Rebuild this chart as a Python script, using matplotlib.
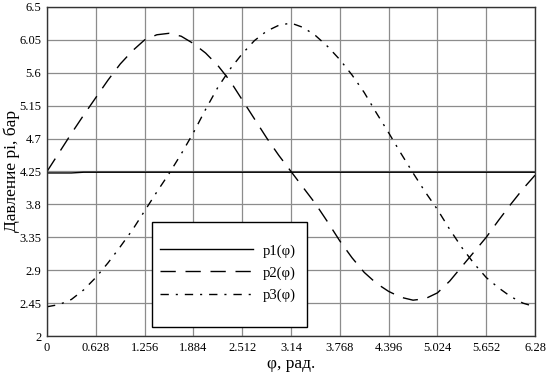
import matplotlib
matplotlib.use('Agg')
import matplotlib.pyplot as plt
from matplotlib.patches import Rectangle

# angle, rad
phi = [0.000, 0.157, 0.314, 0.471, 0.628, 0.785, 0.942, 1.099, 1.256, 1.413,
       1.570, 1.727, 1.884, 2.041, 2.198, 2.355, 2.512, 2.669, 2.826, 2.983,
       3.140, 3.297, 3.454, 3.611, 3.768, 3.925, 4.082, 4.239, 4.396, 4.553,
       4.710, 4.867, 5.024, 5.181, 5.338, 5.495, 5.652, 5.809, 5.966, 6.123,
       6.280]

# pressures, bar
p1 = [4.23, 4.23, 4.23, 4.24, 4.24, 4.24, 4.24, 4.24, 4.24, 4.24,
      4.24, 4.24, 4.24, 4.24, 4.24, 4.24, 4.24, 4.24, 4.24, 4.24,
      4.24, 4.24, 4.24, 4.24, 4.24, 4.24, 4.24, 4.24, 4.24, 4.24,
      4.24, 4.24, 4.24, 4.24, 4.24, 4.24, 4.24, 4.24, 4.24, 4.24,
      4.24]
p2 = [4.25, 4.51, 4.77, 5.02, 5.26, 5.50, 5.72, 5.90, 6.05, 6.12,
      6.14, 6.10, 6.00, 5.87, 5.70, 5.49, 5.23, 4.97, 4.71, 4.47,
      4.25, 4.03, 3.81, 3.56, 3.30, 3.07, 2.87, 2.72, 2.61, 2.53,
      2.49, 2.51, 2.59, 2.75, 2.95, 3.15, 3.35, 3.58, 3.80, 4.01,
      4.20]
p3 = [2.40, 2.43, 2.50, 2.63, 2.80, 3.00, 3.22, 3.45, 3.71, 3.97,
      4.22, 4.49, 4.78, 5.10, 5.40, 5.65, 5.86, 6.04, 6.17, 6.25,
      6.28, 6.22, 6.11, 5.96, 5.78, 5.57, 5.33, 5.05, 4.78, 4.50,
      4.23, 3.97, 3.73, 3.46, 3.21, 2.99, 2.80, 2.66, 2.54, 2.45,
      2.40]

xticks = [0, 0.628, 1.256, 1.884, 2.512, 3.14, 3.768, 4.396, 5.024, 5.652, 6.28]
xlabels = ['0', '0.628', '1.256', '1.884', '2.512', '3.14', '3.768', '4.396', '5.024', '5.652', '6.28']
yticks = [2, 2.45, 2.9, 3.35, 3.8, 4.25, 4.7, 5.15, 5.6, 6.05, 6.5]
ylabels = ['2', '2.45', '2.9', '3.35', '3.8', '4.25', '4.7', '5.15', '5.6', '6.05', '6.5']

plt.rcParams['font.family'] = ['Liberation Serif', 'DejaVu Serif']

fig = plt.figure(figsize=(5.49, 3.74), dpi=100)
ax = fig.add_axes([0.0856, 0.1016, 0.889, 0.8797])

ax.plot(phi, p1, color='black', lw=1.0, label='p1(φ)')
ax.plot(phi, p2, color='black', lw=1.0, linestyle=(0, (11, 7)), label='p2(φ)')
ax.plot(phi, p3, color='black', lw=1.0, linestyle=(0, (6, 5, 1.5, 5)), label='p3(φ)')

ax.set_xlim(0, 6.28)
ax.set_ylim(2, 6.5)
ax.set_xticks(xticks)
ax.set_xticklabels(xlabels)
ax.set_yticks(yticks)
ax.set_yticklabels(ylabels)
ax.tick_params(length=0, labelsize=9, pad=4)
ax.grid(True, color='#8c8c8c', lw=0.9)
ax.set_axisbelow(True)
for s in ax.spines.values():
    s.set_color('#333333')
    s.set_linewidth(1.0)

ax.set_xlabel('φ, рад.', fontsize=12.5, labelpad=1.5)
ax.set_ylabel('Давление pi, бар', fontsize=12.5, labelpad=-0.5)

# legend box
box = Rectangle((0.215, 0.027), 0.318, 0.32, transform=ax.transAxes,
                facecolor='white', edgecolor='black', lw=1.0, zorder=4)
ax.add_patch(box)
leg = ax.legend(loc='center left', bbox_to_anchor=(0.2316, 0.1915), fontsize=10.5,
                handlelength=6.4, labelspacing=0.6, borderpad=0, borderaxespad=0,
                handletextpad=0.65, frameon=False)
leg.set_zorder(5)

fig.savefig('out.png', dpi=100)
